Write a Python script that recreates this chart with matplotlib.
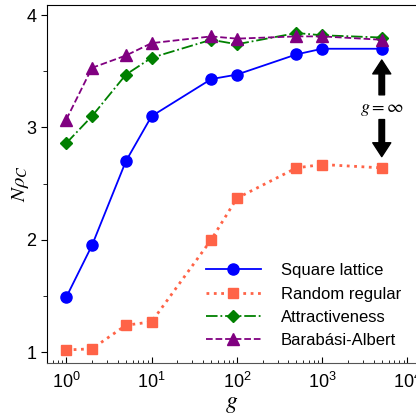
import matplotlib
matplotlib.use("Agg")
import matplotlib.pyplot as plt

plt.rcParams["font.family"] = ["Liberation Sans", "DejaVu Sans"]
plt.rcParams["mathtext.fontset"] = "stix"

g = [1, 2, 5, 10, 50, 100, 500, 1000, 5000]  # 5000 stands for g = infinity
square = [1.49, 1.95, 2.70, 3.10, 3.43, 3.47, 3.65, 3.70, 3.70]
random_regular = [1.02, 1.03, 1.24, 1.27, 2.00, 2.37, 2.64, 2.67, 2.64]
attract = [2.86, 3.10, 3.47, 3.62, 3.78, 3.74, 3.84, 3.82, 3.80]
barabasi = [3.07, 3.53, 3.64, 3.75, 3.81, 3.79, 3.81, 3.81, 3.78]

series = [
    ("Square lattice", square, {"color": "#0000ff", "marker": "o", "linestyle": "-", "markersize": 8}),
    ("Random regular", random_regular, {"color": "#ff6347", "marker": "s", "linestyle": ":", "markersize": 7.5, "linewidth": 2}),
    ("Attractiveness", attract, {"color": "#008000", "marker": "D", "linestyle": "-.", "markersize": 6.5}),
    ("Barabási-Albert", barabasi, {"color": "#800080", "marker": "^", "linestyle": "--", "markersize": 8}),
]

fig = plt.figure(figsize=(4.16, 4.17), dpi=100)
ax = fig.add_axes([0.113, 0.129, 0.887, 0.860])

for label, y, st in series:
    ax.plot(g, y, label=label, linewidth=st.pop("linewidth", 1.3), **st)

ax.set_xscale("log")
ax.set_xlim(0.594, 12600)
ax.set_ylim(0.902, 4.093)
ax.set_yticks([1, 2, 3, 4])
ax.set_yticks([1.5, 2.5, 3.5], minor=True)
ax.set_xticks([1, 10, 100, 1000, 10000])

ax.tick_params(axis="y", which="both", direction="out", labelsize=13)
ax.tick_params(axis="y", which="major", length=4)
ax.tick_params(axis="y", which="minor", length=3)
ax.tick_params(axis="x", which="both", direction="in", labelsize=13, pad=6)
ax.tick_params(axis="x", which="major", length=4)
ax.tick_params(axis="x", which="minor", length=2.5)
ax.spines["right"].set_visible(False)
ax.spines["bottom"].set_color("#555555")

ax.set_xlabel("$g$", fontsize=17, labelpad=1)
ax.set_ylabel(r"$N\rho_C$", fontsize=15, labelpad=-3)

arrow = dict(facecolor="black", edgecolor="black", width=4, headwidth=13, headlength=10, shrink=0)
ax.annotate("", xy=(5000, 3.60), xytext=(5000, 3.29), arrowprops=arrow)
ax.annotate("", xy=(5000, 2.74), xytext=(5000, 3.07), arrowprops=arrow)
ax.text(5000, 3.16, r"$g = \infty$", fontsize=13, ha="center", va="center")

ax.legend(loc="lower right", bbox_to_anchor=(1.0, 0.0), frameon=False, fontsize=12,
          handlelength=3.3, labelspacing=0.5, handletextpad=1.2)

fig.savefig("out.png", dpi=100)
